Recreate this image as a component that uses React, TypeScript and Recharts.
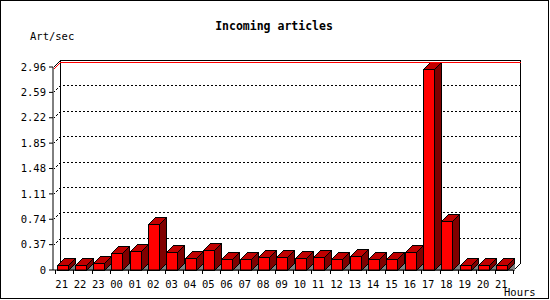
import React from 'react';
import { BarChart, Bar, XAxis, YAxis, CartesianGrid, ReferenceLine, ReferenceArea } from 'recharts';

const hours = ['21','22','23','00','01','02','03','04','05','06','07','08','09','10','11','12','13','14','15','16','17','18','19','20','21'];
const artPerSec = [0.07,0.07,0.10,0.25,0.28,0.67,0.26,0.17,0.29,0.16,0.16,0.19,0.19,0.17,0.19,0.16,0.21,0.16,0.16,0.26,2.93,0.71,0.07,0.07,0.07];
const yTicks = [0, 0.37, 0.74, 1.11, 1.48, 1.85, 2.22, 2.59, 2.96];

const data = hours.map((h, i) => ({ hour: h, value: artPerSec[i] }));
const maxValue = Math.max(...artPerSec);

const D = 7; // 3D depth
const FONT = '"DejaVu Sans Mono", "Liberation Mono", monospace';
const PLOT_W = 460;
const PAD_L = 2;
const HALF_BAND = (PLOT_W - PAD_L) / hours.length / 2;

const Bar3D = (props: any) => {
  const { x, y, width, height } = props;
  if (height == null || width == null) return null;
  const fx = Math.round(x - D / 2 + 1) + 0.5;
  const top = Math.round(y) + 0.5;
  const bot = Math.round(y + height) + 0.5;
  const w = Math.round(width);
  return (
    <g shapeRendering="crispEdges">
      <polygon points={`${fx + w},${bot} ${fx + w + D},${bot - D} ${fx + w + D},${bot}`} fill="#808080" />
      <polygon
        points={`${fx},${top} ${fx + D},${top - D} ${fx + w + D},${top - D} ${fx + w},${top}`}
        fill="#c00000" stroke="#000" strokeWidth={1}
      />
      <polygon
        points={`${fx + w},${top} ${fx + w + D},${top - D} ${fx + w + D},${bot - D} ${fx + w},${bot}`}
        fill="#800000" stroke="#000" strokeWidth={1}
      />
      <rect x={fx} y={top} width={w} height={bot - top} fill="#ff0000" stroke="#000" strokeWidth={1} />
    </g>
  );
};

const XTick = (props: any) => {
  const { x, y, payload, index } = props;
  const cx = x;
  const left = Math.round(cx - HALF_BAND) + 0.5;
  const right = Math.round(cx + HALF_BAND) + 0.5;
  return (
    <g>
      <line x1={left} y1={270} x2={left} y2={274} stroke="#000" shapeRendering="crispEdges" />
      {index === hours.length - 1 && (
        <line x1={right} y1={270} x2={right} y2={274} stroke="#000" shapeRendering="crispEdges" />
      )}
      <text x={cx - 2.5} y={y + 10} textAnchor="middle" fontFamily={FONT} fontSize={10.5} fill="#000">
        {payload.value}
      </text>
    </g>
  );
};

const GridLine = (props: any) => {
  const { x1, y1, x2, y, height } = props;
  if (y != null && height != null) {
    if (Math.abs(y1 - y) < 0.5 || Math.abs(y1 - (y + height)) < 0.5) return <g />;
  }
  const yy = Math.round(y1) + 0.5;
  const xl = Math.round(x1) + 0.5;
  const xr = Math.round(x2) + 0.5;
  return (
    <polyline
      points={`${xl},${yy} ${xl + D},${yy - D} ${xr + D},${yy - D}`}
      fill="none" stroke="#000" strokeDasharray="2 2" shapeRendering="crispEdges"
    />
  );
};

const MaxLine = (props: any) => {
  const { x1, y1, x2 } = props;
  const yy = Math.round(y1) + 0.5;
  const xl = 53.5;
  const xr = Math.round(x2) + 0.5;
  return (
    <polyline
      points={`${xl},${yy} ${xl + D},${yy - D} ${xr + D},${yy - D}`}
      fill="none" stroke="#ff0000" shapeRendering="crispEdges"
    />
  );
};

const Frame = (props: any) => {
  const { y, width, height } = props;
  const l = 53.5;
  const r = 53.5 + PLOT_W;
  const t = Math.round(y) + 0.5;
  const b = Math.round(y + height) + 0.5;
  return (
    <g fill="none" stroke="#000" shapeRendering="crispEdges">
      <polyline points={`${l},${t} ${l + D},${t - D} ${r + D},${t - D} ${r + D},${b - D} ${r},${b}`} />
      <line x1={l + D} y1={t - D} x2={l + D} y2={b - D} />
    </g>
  );
};

export default function App() {
  return (
    <div style={{ position: 'absolute', left: 0, top: 0, width: 550, height: 300, background: '#fff' }}>
      <BarChart
        width={550}
        height={300}
        data={data}
        margin={{ top: 67, right: 37, bottom: 0, left: 0 }}
        barSize={11}
      >
        <ReferenceArea y1={0} y2={yTicks[yTicks.length - 1]} ifOverflow="visible" shape={Frame} />
        <CartesianGrid vertical={false} horizontal={GridLine as any} />
        <ReferenceLine y={maxValue} ifOverflow="visible" shape={MaxLine} />
        <XAxis
          dataKey="hour"
          height={30}
          padding={{ left: PAD_L, right: 0 }}
          tickLine={false}
          axisLine={{ stroke: '#000' }}
          tick={XTick}
          interval={0}
          allowDuplicatedCategory={true}
        />
        <YAxis
          width={53}
          domain={[0, yTicks[yTicks.length - 1]]}
          ticks={yTicks}
          interval={0}
          tickSize={4}
          tickMargin={3}
          axisLine={{ stroke: '#000' }}
          tickLine={{ stroke: '#000' }}
          tick={{ fontFamily: FONT, fontSize: 10.5, fill: '#000' }}
          tickFormatter={(v: number) => (v === 0 ? '0' : v.toFixed(2))}
        />
        <Bar dataKey="value" isAnimationActive={false} shape={Bar3D} />
      </BarChart>
      <svg width={550} height={300} style={{ position: 'absolute', left: 0, top: 0, pointerEvents: 'none' }}>
        <rect x={0.5} y={0.5} width={548} height={298} fill="none" stroke="#000" shapeRendering="crispEdges" />
        <text x={274} y={30} textAnchor="middle" fontFamily={FONT} fontSize={11.5} fontWeight="bold" fill="#000">
          Incoming articles
        </text>
        <text x={30} y={40} fontFamily={FONT} fontSize={10.5} fill="#000">Art/sec</text>
        <text x={504} y={296} fontFamily={FONT} fontSize={10.5} fill="#000">Hours</text>
      </svg>
    </div>
  );
}
